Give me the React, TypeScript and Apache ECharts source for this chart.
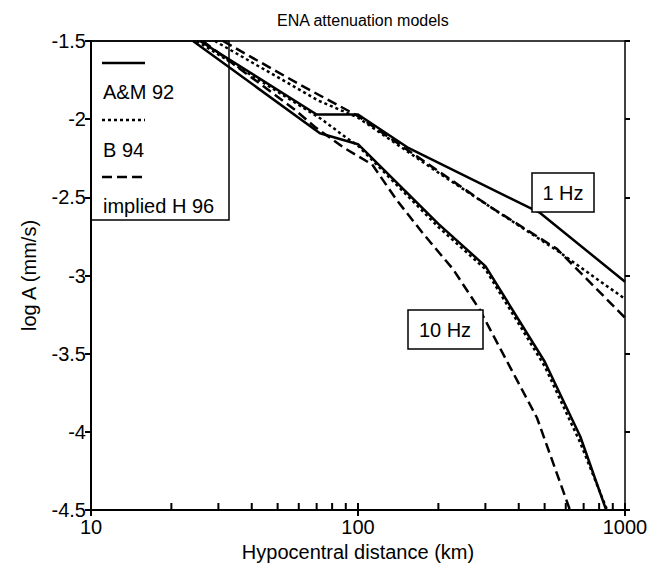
import React, { useEffect, useRef } from "react";
import * as echarts from "echarts";

// Hypocentral distance (km), log A (mm/s)
const am92_1Hz: [number, number][] = [
  [25.6, -1.5], [70, -1.97], [100, -1.97], [153, -2.18], [481, -2.6], [1000, -3.04],
];
const am92_10Hz: [number, number][] = [
  [24.1, -1.5], [72, -2.09], [100, -2.16], [200, -2.67], [300, -2.94], [500, -3.55], [680, -4.03], [850, -4.5],
];
const b94_1Hz: [number, number][] = [
  [29.1, -1.5], [70.8, -1.88], [100, -1.99], [203, -2.35], [312, -2.56], [556, -2.84], [1000, -3.15],
];
const b94_10Hz: [number, number][] = [
  [24.9, -1.5], [73, -2.0], [89, -2.11], [100, -2.17], [200, -2.69], [300, -2.96], [500, -3.58], [680, -4.07], [857, -4.5],
];
const h96_1Hz: [number, number][] = [
  [31.2, -1.5], [60.7, -1.78], [100, -1.98], [203, -2.34], [312, -2.56], [556, -2.83], [1000, -3.27],
];
const h96_10Hz: [number, number][] = [
  [26.2, -1.5], [58, -1.94], [69, -2.05], [89, -2.185], [113, -2.29], [140, -2.52], [175, -2.73],
  [227, -2.96], [286, -3.22], [349, -3.5], [468, -3.91], [622, -4.5],
];

const majorTicksKm = [10, 100, 1000];
const minorTicksKm = [20, 30, 40, 50, 60, 70, 80, 90, 200, 300, 400, 500, 600, 700, 800, 900];
const legendNames = ["A&M 92", "B 94", "implied H 96"];
const freqLabels = ["1 Hz", "10 Hz"];

const FONT = "Liberation Sans, Arial, Helvetica, sans-serif";
const SOLID = "solid";
const DOTTED = [3, 3];
const DASHED = [10, 5];
const TICK = "#000";

export default function App() {
  const ref = useRef<HTMLDivElement>(null);
  useEffect(() => {
    if (!ref.current) return;
    const chart = echarts.init(ref.current, null, { renderer: "svg" });
    const lineSeries = (name: string, data: [number, number][], type: any) => ({
      name,
      type: "line",
      data,
      symbol: "none",
      smooth: false,
      clip: true,
      lineStyle: { color: "#000", width: 2.5, type },
      z: 3,
    });
    const ticks = [
      ...majorTicksKm.map((v) => [v, -4.5, 1]),
      ...minorTicksKm.map((v) => [v, -4.5, 0]),
    ];
    const txt = (x: number, y: number, text: string, align: string, z: number) => ({
      type: "text",
      x,
      y,
      z,
      style: { text, font: `20px ${FONT}`, fill: "#000", textAlign: align, textVerticalAlign: "middle" },
    });
    chart.setOption({
      animation: false,
      backgroundColor: "#fff",
      textStyle: { fontFamily: FONT, color: "#000" },
      title: {
        text: "ENA attenuation models",
        left: 272,
        top: 7,
        textStyle: { fontFamily: FONT, fontSize: 16, fontWeight: "normal", color: "#000" },
      },
      grid: { left: 91, right: 37, top: 41, bottom: 63 },
      xAxis: [
        {
          type: "log",
          logBase: 10,
          min: 10,
          max: 1000,
          name: "Hypocentral distance (km)",
          nameLocation: "middle",
          nameGap: 32,
          nameTextStyle: { fontFamily: FONT, fontSize: 20, color: "#000" },
          axisLine: { show: true, lineStyle: { color: "#000", width: 2 } },
          axisTick: { show: false },
          axisLabel: { fontFamily: FONT, fontSize: 20, color: "#000", margin: 7, formatter: (v: number) => String(v) },
          splitLine: { show: false },
        },
        {
          type: "log",
          logBase: 10,
          min: 10,
          max: 1000,
          position: "top",
          axisLine: { show: true, lineStyle: { color: "#000", width: 1.5 } },
          axisTick: { show: false },
          axisLabel: { show: false },
          splitLine: { show: false },
        },
      ],
      yAxis: [
        {
          type: "value",
          min: -4.5,
          max: -1.5,
          interval: 0.5,
          name: "log A (mm/s)",
          nameLocation: "middle",
          nameGap: 52,
          nameTextStyle: { fontFamily: FONT, fontSize: 20, color: "#000" },
          axisLine: { show: true, lineStyle: { color: "#000", width: 2 } },
          axisTick: { show: true, inside: false, length: 6, lineStyle: { color: TICK, width: 2 } },
          axisLabel: { fontFamily: FONT, fontSize: 20, color: "#000", margin: 5 },
          splitLine: { show: false },
        },
        {
          type: "value",
          min: -4.5,
          max: -1.5,
          interval: 0.5,
          position: "right",
          axisLine: { show: true, lineStyle: { color: "#000", width: 1.5 } },
          axisTick: { show: true, inside: false, length: 5, lineStyle: { color: TICK, width: 2 } },
          axisLabel: { show: false },
          splitLine: { show: false },
        },
      ],
      series: [
        lineSeries("A&M 92 1 Hz", am92_1Hz, SOLID),
        lineSeries("A&M 92 10 Hz", am92_10Hz, SOLID),
        lineSeries("B 94 1 Hz", b94_1Hz, DOTTED),
        lineSeries("B 94 10 Hz", b94_10Hz, DOTTED),
        lineSeries("implied H 96 1 Hz", h96_1Hz, DASHED),
        lineSeries("implied H 96 10 Hz", h96_10Hz, DASHED),
        {
          type: "custom",
          name: "x ticks",
          coordinateSystem: "cartesian2d",
          data: ticks,
          clip: false,
          silent: true,
          z: 4,
          renderItem: (params: any, api: any) => {
            const p = api.coord([api.value(0), api.value(1)]);
            const major = api.value(2) === 1;
            return {
              type: "line",
              shape: { x1: p[0], y1: major ? p[1] + 6 : p[1], x2: p[0], y2: p[1] - 7 },
              style: { stroke: TICK, lineWidth: 2 },
            };
          },
        },
      ],
      graphic: [
        {
          type: "rect",
          shape: { x: 91, y: 41, width: 138, height: 179 },
          style: { fill: "none", stroke: "#000", lineWidth: 1.5 },
          z: 1,
        },
        { type: "line", shape: { x1: 102, y1: 63, x2: 145, y2: 63 }, style: { stroke: "#000", lineWidth: 2.5 }, z: 1 },
        { type: "line", shape: { x1: 102, y1: 120, x2: 145, y2: 120 }, style: { stroke: "#000", lineWidth: 2.5, lineDash: DOTTED }, z: 1 },
        { type: "line", shape: { x1: 102, y1: 177, x2: 145, y2: 177 }, style: { stroke: "#000", lineWidth: 2.5, lineDash: DASHED }, z: 1 },
        txt(103, 92, legendNames[0], "left", 1),
        txt(103, 150, legendNames[1], "left", 1),
        txt(103, 206, legendNames[2], "left", 1),
        {
          type: "rect",
          shape: { x: 532, y: 173, width: 62, height: 39 },
          style: { fill: "#fff", stroke: "#000", lineWidth: 1.5 },
          z: 10,
        },
        txt(563, 193, freqLabels[0], "center", 11),
        {
          type: "rect",
          shape: { x: 408, y: 310, width: 75, height: 39 },
          style: { fill: "#fff", stroke: "#000", lineWidth: 1.5 },
          z: 10,
        },
        txt(445, 330, freqLabels[1], "center", 11),
      ],
    });
    return () => chart.dispose();
  }, []);
  return <div ref={ref} style={{ position: "fixed", left: 0, top: 0, width: 662, height: 573 }} />;
}
